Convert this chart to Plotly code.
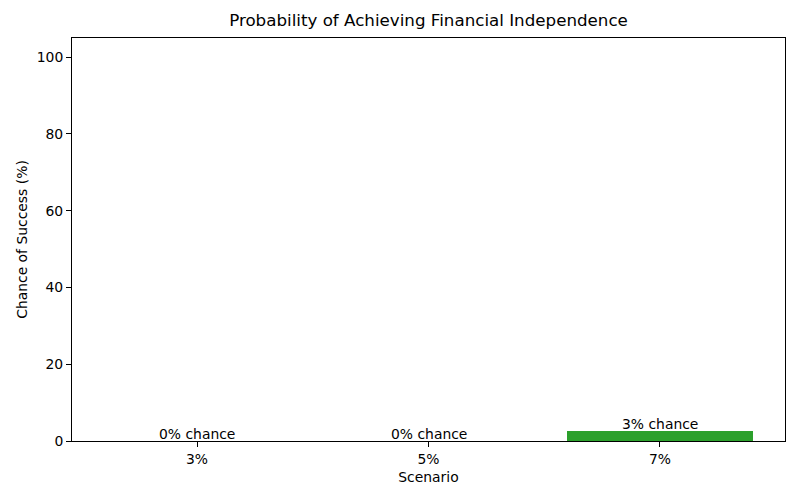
import plotly.graph_objects as go

scenarios = ["3%", "5%", "7%"]
success_pct = [0.0, 0.0, 2.6]
bar_colors = ["#1f77b4", "#ff7f0e", "#2ca02c"]
y_ticks = [0, 20, 40, 60, 80, 100]

xpos = list(range(len(scenarios)))
fig = go.Figure()
fig.add_trace(go.Bar(x=xpos, y=success_pct, width=0.8,
                     marker=dict(color=bar_colors, line=dict(width=0)),
                     showlegend=False))
for x, v in zip(xpos, success_pct):
    fig.add_annotation(x=x, y=v, text=f"{round(v)}% chance", showarrow=False,
                       yanchor="bottom", xanchor="center", yshift=-3,
                       font=dict(size=13.9, color="black"))

axis_common = dict(showline=True, linecolor="black", linewidth=1, mirror=True,
                   ticks="outside", ticklen=5, tickcolor="black", tickwidth=1,
                   showgrid=False, zeroline=False, automargin=False,
                   tickfont=dict(size=13.9, color="black"))
fig.update_xaxes(range=[-0.54, 2.54], tickvals=xpos, ticktext=scenarios,
                 title=dict(text="Scenario", font=dict(size=13.9, color="black"), standoff=6),
                 **axis_common)
fig.update_yaxes(range=[0, 105], tickvals=y_ticks,
                 title=dict(text="Chance of Success (%)", font=dict(size=13.9, color="black"), standoff=5),
                 **axis_common)
fig.update_layout(
    width=800, height=500,
    margin=dict(l=64, r=23, t=30, b=67),
    paper_bgcolor="white", plot_bgcolor="white",
    font=dict(family="DejaVu Sans", color="black"),
    title=dict(text="Probability of Achieving Financial Independence",
               x=0.5, xanchor="center", xref="paper", y=0.976, yanchor="middle",
               font=dict(size=16.7, color="black")),
    bargap=0,
)
fig.write_html("out.html")
